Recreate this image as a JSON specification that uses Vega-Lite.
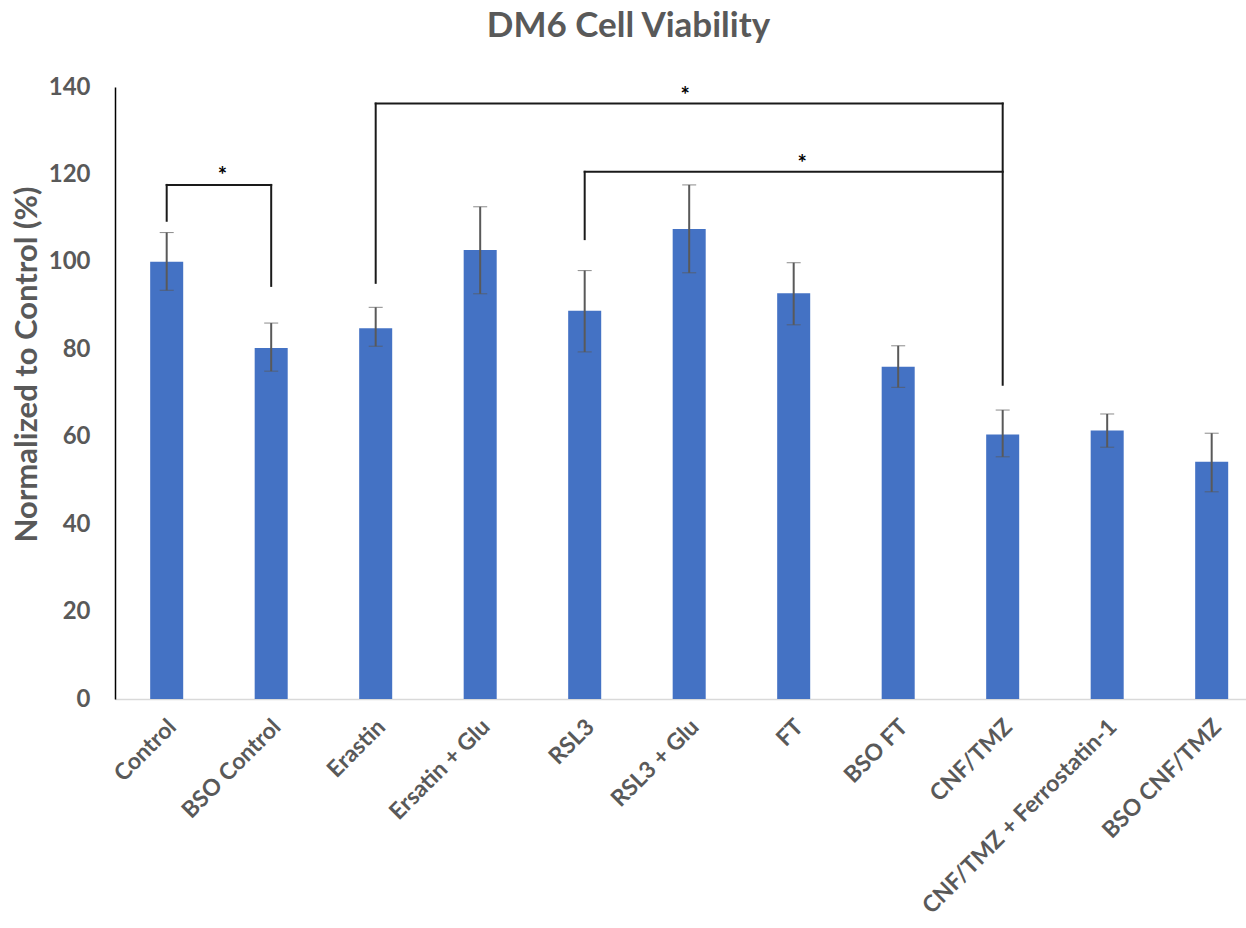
{
  "$schema": "https://vega.github.io/schema/vega-lite/v6.json",
  "autosize": "none",
  "width": 1131,
  "height": 612,
  "padding": {"left": 115, "top": 87, "right": 0, "bottom": 229},
  "background": "white",
  "title": {
    "text": "DM6 Cell Viability",
    "font": "Lato",
    "fontSize": 35,
    "fontWeight": "bold",
    "color": "#595959",
    "frame": "bounds",
    "anchor": "middle",
    "baseline": "bottom",
    "offset": -4
  },
  "datasets": {
    "bars": [
      {"cond": "Control", "value": 100.0, "lo": 93.5, "hi": 106.7},
      {"cond": "BSO Control", "value": 80.3, "lo": 75.0, "hi": 86.0},
      {"cond": "Erastin", "value": 84.8, "lo": 80.7, "hi": 89.6},
      {"cond": "Ersatin + Glu", "value": 102.7, "lo": 92.7, "hi": 112.6},
      {"cond": "RSL3", "value": 88.8, "lo": 79.4, "hi": 98.0},
      {"cond": "RSL3 + Glu", "value": 107.5, "lo": 97.5, "hi": 117.6},
      {"cond": "FT", "value": 92.8, "lo": 85.6, "hi": 99.8},
      {"cond": "BSO FT", "value": 76.0, "lo": 71.3, "hi": 80.8},
      {"cond": "CNF/TMZ", "value": 60.5, "lo": 55.4, "hi": 66.1},
      {"cond": "CNF/TMZ + Ferrostatin-1", "value": 61.4, "lo": 57.6, "hi": 65.2},
      {"cond": "BSO CNF/TMZ", "value": 54.3, "lo": 47.4, "hi": 60.8}
    ],
    "hlines": [
      {"cond": "Control", "cond2": "BSO Control", "y": 117.6},
      {"cond": "Erastin", "cond2": "CNF/TMZ", "y": 136.2},
      {"cond": "RSL3", "cond2": "CNF/TMZ", "y": 120.6}
    ],
    "vlines": [
      {"cond": "Control", "y": 109.4, "y2": 117.6},
      {"cond": "BSO Control", "y": 94.5, "y2": 117.6},
      {"cond": "Erastin", "y": 95.2, "y2": 136.2},
      {"cond": "CNF/TMZ", "y": 71.9, "y2": 136.2},
      {"cond": "RSL3", "y": 105.2, "y2": 120.6}
    ]
  },
  "config": {
    "view": {"stroke": null},
    "axisX": {
      "domain": true,
      "domainColor": "#d9d9d9",
      "domainWidth": 1.5,
      "ticks": false,
      "tickSize": 0,
      "grid": false,
      "labelAngle": -45,
      "labelAlign": "right",
      "labelBaseline": "middle",
      "labelPadding": 24,
      "labelOffset": 6,
      "labelFont": "Lato",
      "labelFontSize": 23,
      "labelFontWeight": "bold",
      "labelColor": "#595959",
      "labelOverlap": false,
      "labelLimit": 0
    },
    "axisY": {
      "domain": true,
      "domainColor": "#000000",
      "domainWidth": 1.5,
      "ticks": false,
      "tickSize": 0,
      "grid": false,
      "labelFont": "Lato",
      "labelFontSize": 24,
      "labelFontWeight": "bold",
      "labelColor": "#595959",
      "labelPadding": 25,
      "titleFont": "Lato",
      "titleFontSize": 31,
      "titleFontWeight": "bold",
      "titleColor": "#595959",
      "titleAngle": -90,
      "titleX": -88,
      "titleY": 277,
      "titleAlign": "center",
      "titleBaseline": "middle"
    }
  },
  "layer": [
    {
      "data": {"name": "bars"},
      "mark": {"type": "bar", "color": "#4472C4"},
      "encoding": {
        "x": {"field": "cond", "type": "nominal", "sort": null, "title": null,
              "scale": {"domain": ["Control", "BSO Control", "Erastin", "Ersatin + Glu", "RSL3", "RSL3 + Glu", "FT", "BSO FT", "CNF/TMZ", "CNF/TMZ + Ferrostatin-1", "BSO CNF/TMZ"], "paddingInner": 0.684, "paddingOuter": 0.2535, "align": 0.664}},
        "y": {"field": "value", "type": "quantitative", "title": "Normalized to Control (%)", "scale": {"domain": [0, 140], "nice": false},
              "axis": {"values": [0, 20, 40, 60, 80, 100, 120, 140]}}
      }
    },
    {
      "data": {"name": "bars"},
      "mark": {"type": "errorbar", "color": "#595959", "ticks": {"size": 14, "strokeWidth": 2, "color": "#595959"}, "rule": {"strokeWidth": 2, "color": "#595959"}},
      "encoding": {
        "x": {"field": "cond", "type": "nominal", "sort": null, "title": null,
              "scale": {"domain": ["Control", "BSO Control", "Erastin", "Ersatin + Glu", "RSL3", "RSL3 + Glu", "FT", "BSO FT", "CNF/TMZ", "CNF/TMZ + Ferrostatin-1", "BSO CNF/TMZ"]}},
        "y": {"field": "lo", "type": "quantitative", "title": "Normalized to Control (%)", "scale": {"domain": [0, 140], "nice": false},
              "axis": {"values": [0, 20, 40, 60, 80, 100, 120, 140]}},
        "y2": {"field": "hi"}
      }
    },
    {
      "data": {"name": "hlines"},
      "mark": {"type": "rule", "color": "#1a1a1a", "strokeWidth": 2, "strokeCap": "square"},
      "encoding": {
        "x": {"field": "cond", "type": "nominal", "sort": null, "title": null,
              "scale": {"domain": ["Control", "BSO Control", "Erastin", "Ersatin + Glu", "RSL3", "RSL3 + Glu", "FT", "BSO FT", "CNF/TMZ", "CNF/TMZ + Ferrostatin-1", "BSO CNF/TMZ"]}},
        "x2": {"field": "cond2"},
        "y": {"field": "y", "type": "quantitative", "title": "Normalized to Control (%)", "scale": {"domain": [0, 140], "nice": false},
              "axis": {"values": [0, 20, 40, 60, 80, 100, 120, 140]}}
      }
    },
    {
      "data": {"name": "vlines"},
      "mark": {"type": "rule", "color": "#1a1a1a", "strokeWidth": 2, "strokeCap": "square"},
      "encoding": {
        "x": {"field": "cond", "type": "nominal", "sort": null, "title": null,
              "scale": {"domain": ["Control", "BSO Control", "Erastin", "Ersatin + Glu", "RSL3", "RSL3 + Glu", "FT", "BSO FT", "CNF/TMZ", "CNF/TMZ + Ferrostatin-1", "BSO CNF/TMZ"]}},
        "y": {"field": "y", "type": "quantitative", "title": "Normalized to Control (%)", "scale": {"domain": [0, 140], "nice": false},
              "axis": {"values": [0, 20, 40, 60, 80, 100, 120, 140]}},
        "y2": {"field": "y2"}
      }
    },
    {
      "data": {"values": [{"cond": "BSO Control", "y": 119.6, "s": "*"}]},
      "mark": {"type": "text", "font": "Lato", "fontWeight": "bold", "fontSize": 22, "color": "#000000", "baseline": "middle", "align": "center"},
      "encoding": {
        "x": {"field": "cond", "type": "nominal", "sort": null, "title": null, "bandPosition": -0.98,
              "scale": {"domain": ["Control", "BSO Control", "Erastin", "Ersatin + Glu", "RSL3", "RSL3 + Glu", "FT", "BSO FT", "CNF/TMZ", "CNF/TMZ + Ferrostatin-1", "BSO CNF/TMZ"]}},
        "y": {"field": "y", "type": "quantitative", "title": "Normalized to Control (%)", "scale": {"domain": [0, 140], "nice": false},
              "axis": {"values": [0, 20, 40, 60, 80, 100, 120, 140]}},
        "text": {"field": "s"}
      }
    },
    {
      "data": {"values": [{"cond": "RSL3 + Glu", "y": 138.0, "s": "*"}]},
      "mark": {"type": "text", "font": "Lato", "fontWeight": "bold", "fontSize": 22, "color": "#000000", "baseline": "middle", "align": "center"},
      "encoding": {
        "x": {"field": "cond", "type": "nominal", "sort": null, "title": null, "bandPosition": 0.38,
              "scale": {"domain": ["Control", "BSO Control", "Erastin", "Ersatin + Glu", "RSL3", "RSL3 + Glu", "FT", "BSO FT", "CNF/TMZ", "CNF/TMZ + Ferrostatin-1", "BSO CNF/TMZ"]}},
        "y": {"field": "y", "type": "quantitative", "title": "Normalized to Control (%)", "scale": {"domain": [0, 140], "nice": false},
              "axis": {"values": [0, 20, 40, 60, 80, 100, 120, 140]}},
        "text": {"field": "s"}
      }
    },
    {
      "data": {"values": [{"cond": "FT", "y": 122.3, "s": "*"}]},
      "mark": {"type": "text", "font": "Lato", "fontWeight": "bold", "fontSize": 22, "color": "#000000", "baseline": "middle", "align": "center"},
      "encoding": {
        "x": {"field": "cond", "type": "nominal", "sort": null, "title": null, "bandPosition": 0.76,
              "scale": {"domain": ["Control", "BSO Control", "Erastin", "Ersatin + Glu", "RSL3", "RSL3 + Glu", "FT", "BSO FT", "CNF/TMZ", "CNF/TMZ + Ferrostatin-1", "BSO CNF/TMZ"]}},
        "y": {"field": "y", "type": "quantitative", "title": "Normalized to Control (%)", "scale": {"domain": [0, 140], "nice": false},
              "axis": {"values": [0, 20, 40, 60, 80, 100, 120, 140]}},
        "text": {"field": "s"}
      }
    }
  ]
}
